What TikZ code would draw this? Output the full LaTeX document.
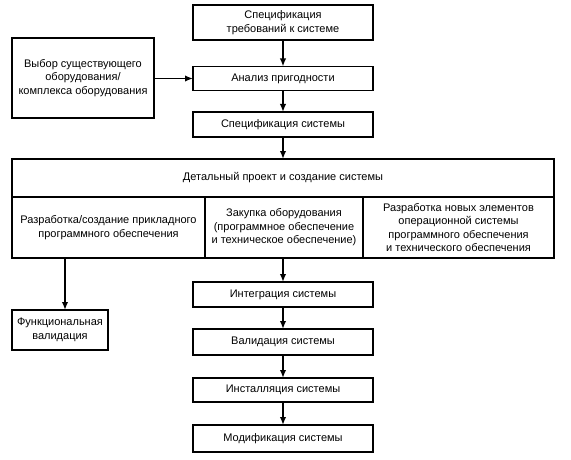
\documentclass[tikz,border=0pt]{standalone}
\usepackage{fontspec}
\setmainfont{Liberation Sans}
\usetikzlibrary{arrows.meta}
\begin{document}
\begin{tikzpicture}[x=1pt,y=-1pt,
  every node/.style={inner sep=0pt, outer sep=0pt},
  box/.style={draw, line width=1.6pt, align=center, font=\fontsize{11}{13.5}\selectfont, minimum width=180pt},
  cell/.style={draw, line width=1.6pt, align=center, font=\fontsize{11}{13.5}\selectfont, minimum height=61pt},
  arr/.style={line width=1.6pt, -{Latex[length=8pt,width=6.5pt]}}
]
\useasboundingbox (0,0) rectangle (571,460);
\node[box, minimum height=35pt] (req) at (283,22.5) {Спецификация\\требований к системе};
\node[box, minimum height=24pt] (ana) at (283,78.5) {Анализ пригодности};
\node[box, minimum height=25pt] (spec) at (283,124.5) {Спецификация системы};
\node[box, minimum width=142pt, minimum height=80pt] (sel) at (83,78) {Выбор существующего\\оборудования/\\комплекса оборудования};
\node[box, minimum width=542pt, minimum height=38pt] (det) at (283,178) {Детальный проект и создание системы};
\node[cell, minimum width=193pt] (c1) at (108.5,227.5) {Разработка/создание прикладного\\программного обеспечения};
\node[cell, minimum width=158pt] (c2) at (284,227.5) {Закупка оборудования\\(программное обеспечение\\и техническое обеспечение)};
\node[cell, minimum width=191pt] (c3) at (458.5,227.5) {Разработка новых элементов\\операционной системы\\программного обеспечения\\и технического обеспечения};
\node[box, minimum height=25pt] (integ) at (283,294.5) {Интеграция системы};
\node[box, minimum height=26pt] (valid) at (283,342) {Валидация системы};
\node[box, minimum height=24pt] (inst) at (283,390) {Инсталляция системы};
\node[box, minimum height=27pt] (mod) at (283,438.5) {Модификация системы};
\node[box, minimum width=96pt, minimum height=40pt] (func) at (60,330) {Функциональная\\валидация};
\draw[arr] (req) -- (ana);
\draw[arr] (ana) -- (spec);
\draw[arr] (spec) -- (det);
\draw[arr] (sel.east |- ana.west) -- (ana.west);
\draw[arr] (c2.south -| integ.north) -- (integ.north);
\draw[arr] (integ) -- (valid);
\draw[arr] (valid) -- (inst);
\draw[arr] (inst) -- (mod);
\draw[arr] ([xshift=5pt]func.north |- c1.south) -- ([xshift=5pt]func.north);
\end{tikzpicture}
\end{document}
